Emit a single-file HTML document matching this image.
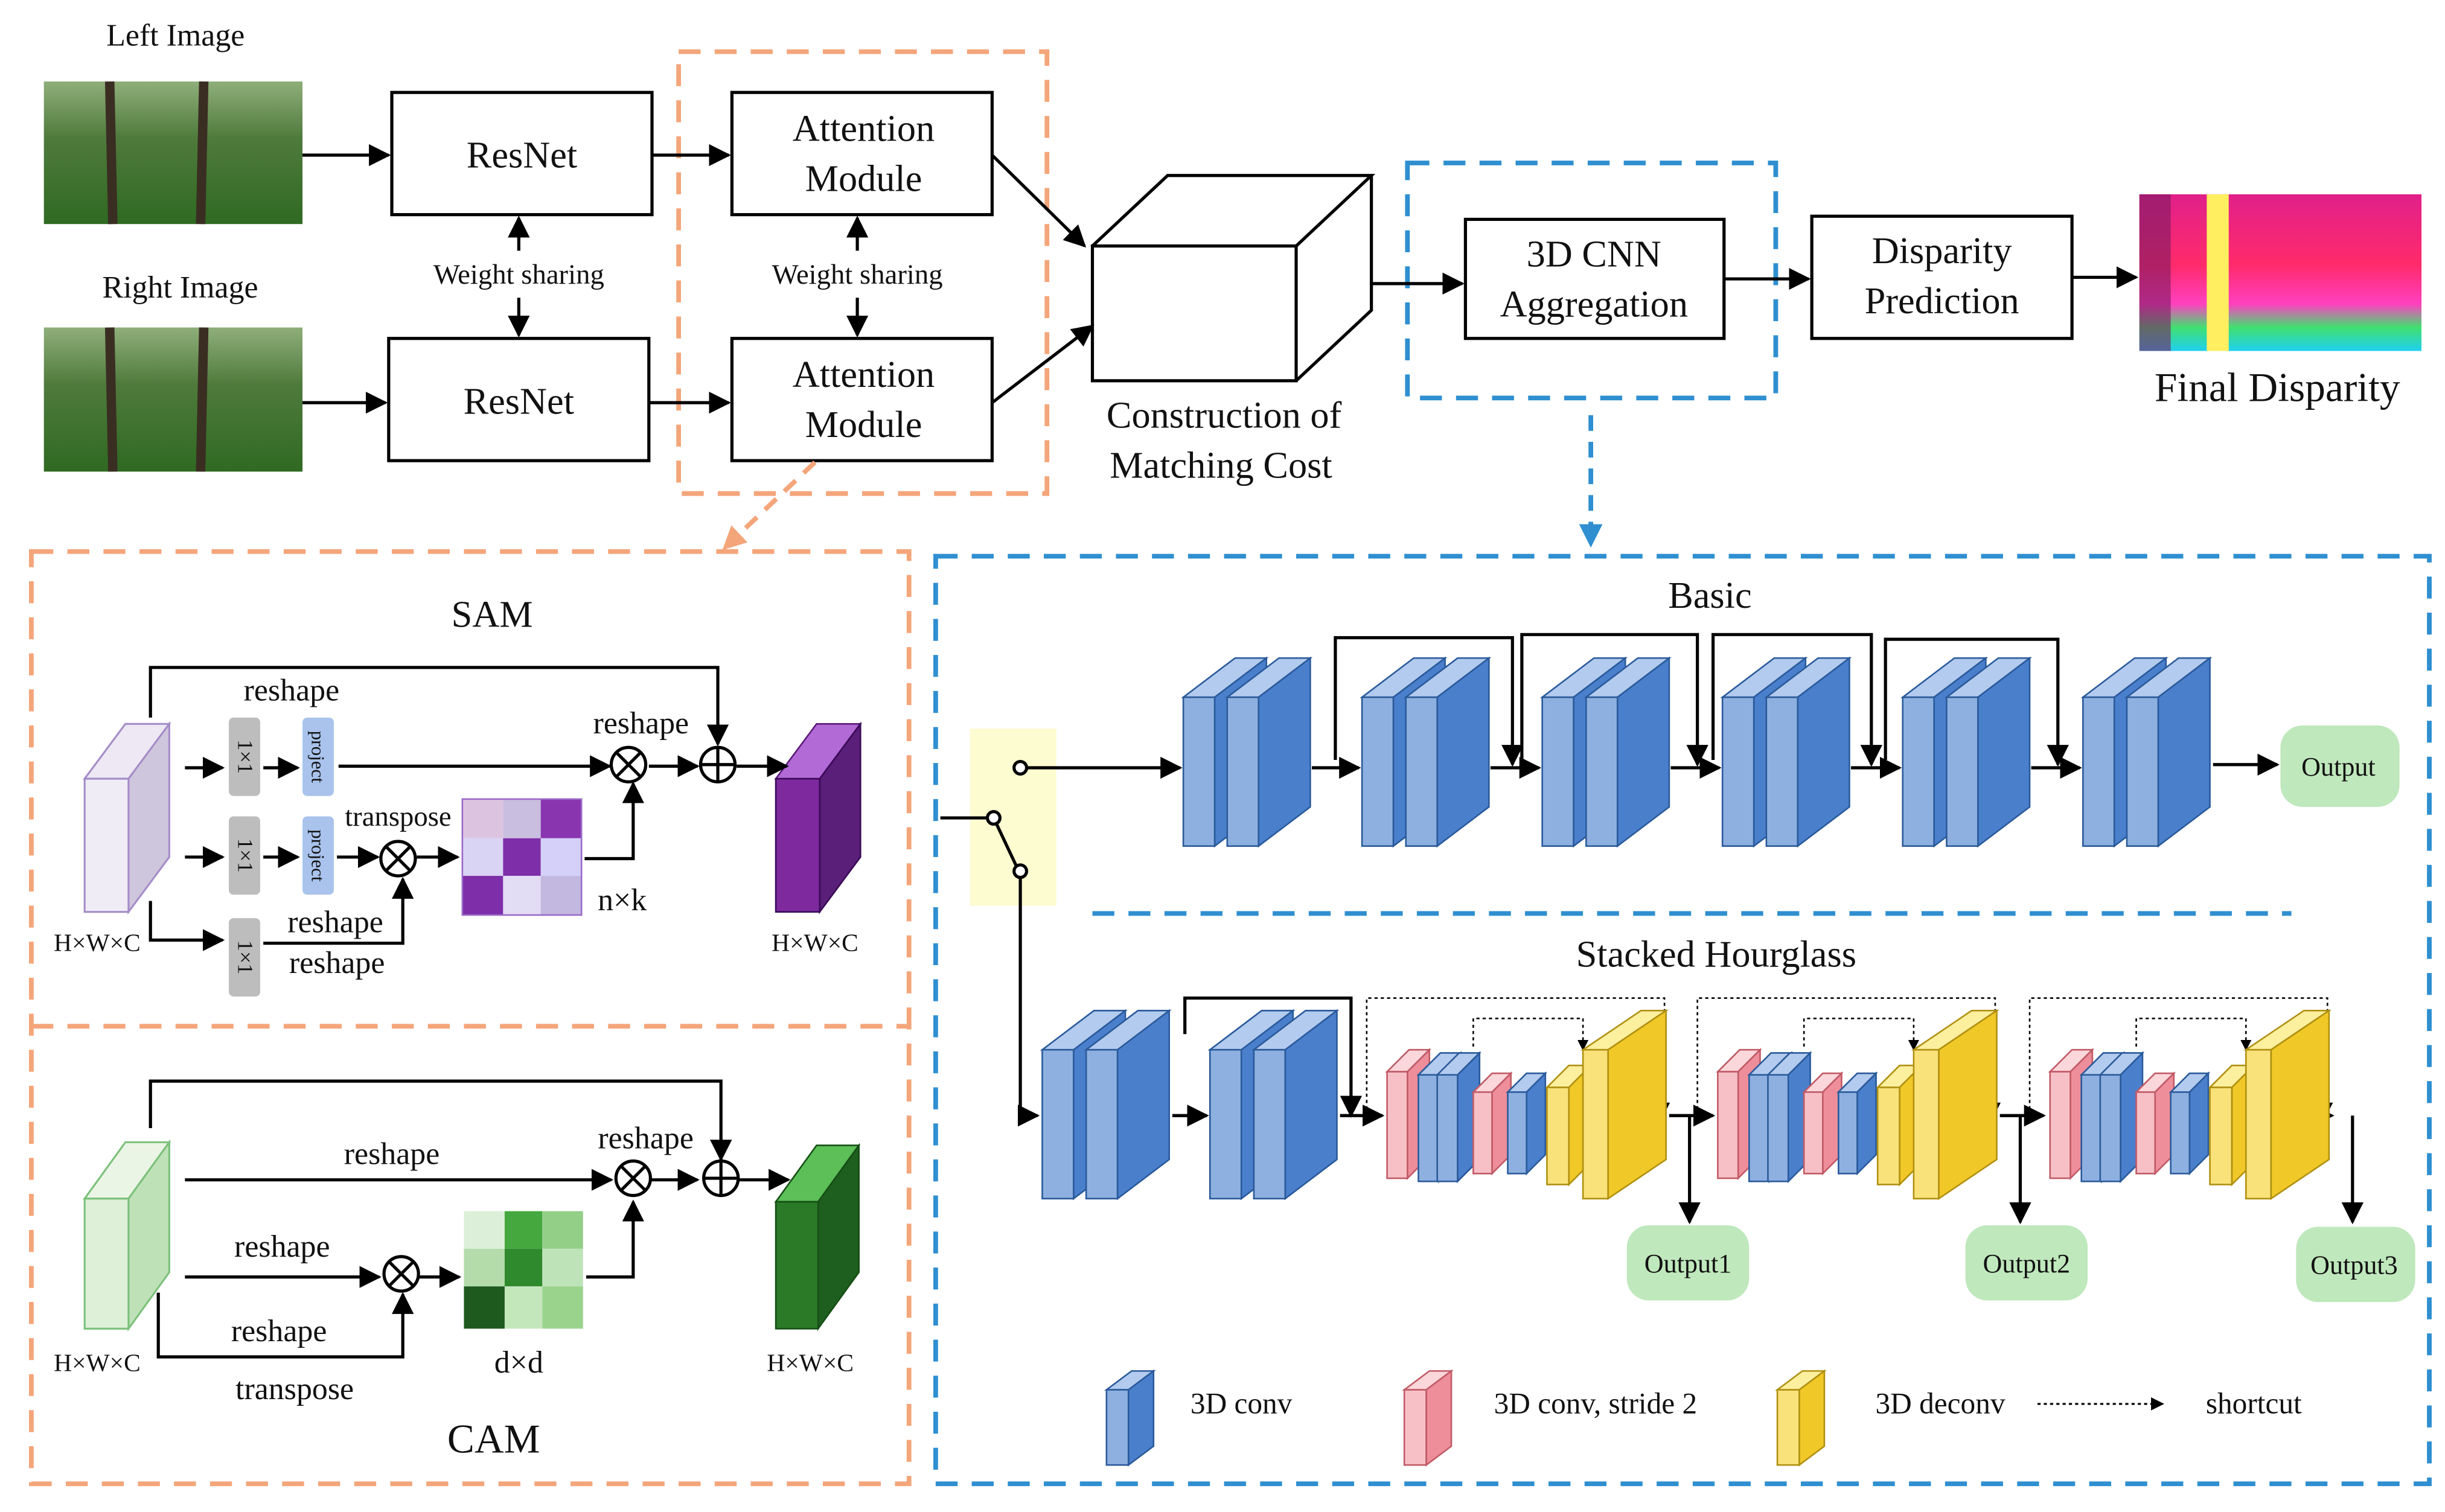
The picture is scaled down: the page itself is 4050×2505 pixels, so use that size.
<!DOCTYPE html>
<html><head><meta charset="utf-8"><style>
html,body{margin:0;padding:0;background:#fff}
svg{display:block}
text{font-family:"Liberation Serif",serif;fill:#111}
</style></head><body>
<svg id="s" width="4050" height="2505" viewBox="0 0 1560 965" preserveAspectRatio="none" xmlns="http://www.w3.org/2000/svg">
<defs>
<marker id="a" viewBox="0 0 10 10" refX="9" refY="5" markerWidth="7" markerHeight="7" orient="auto"><path d="M0,0L10,5L0,10z" fill="#000"/></marker>
<marker id="ao" viewBox="0 0 10 10" refX="9" refY="5" markerWidth="5" markerHeight="5" orient="auto"><path d="M0,0L10,5L0,10z" fill="#f4a57a"/></marker>
<marker id="ab" viewBox="0 0 10 10" refX="9" refY="5" markerWidth="5" markerHeight="5" orient="auto"><path d="M0,0L10,5L0,10z" fill="#2f8fd0"/></marker>
<linearGradient id="forest" x1="0" y1="0" x2="0" y2="1"><stop offset="0" stop-color="#8fae7a"/><stop offset="0.4" stop-color="#4f7a3c"/><stop offset="1" stop-color="#2f6a22"/></linearGradient>
<linearGradient id="disp" x1="0" y1="0" x2="0" y2="1"><stop offset="0" stop-color="#e0208a"/><stop offset="0.45" stop-color="#ff2a6a"/><stop offset="0.7" stop-color="#ff40c0"/><stop offset="0.85" stop-color="#40e070"/><stop offset="1" stop-color="#20d0f0"/></linearGradient>
</defs>
<g id="g" stroke="#000" stroke-width="2" fill="none">
<rect x="28" y="52" width="165" height="91" fill="url(#forest)" stroke="none"/>
<rect x="28" y="209" width="165" height="92" fill="url(#forest)" stroke="none"/>
<g stroke="#3a2e22" stroke-width="6"><line x1="70" y1="52" x2="72" y2="143"/><line x1="130" y1="52" x2="128" y2="143"/><line x1="70" y1="209" x2="72" y2="301"/><line x1="130" y1="209" x2="128" y2="301"/></g>
<rect x="250" y="59" width="166" height="78"/>
<rect x="248" y="216" width="166" height="78"/>
<rect x="467" y="59" width="166" height="78"/>
<rect x="467" y="216" width="166" height="78"/>
<rect x="935" y="140" width="165" height="76"/>
<rect x="1156" y="138" width="166" height="78"/>
<rect x="1365" y="124" width="180" height="100" fill="url(#disp)" stroke="none"/>
<rect x="1408" y="124" width="14" height="100" fill="#ffee60" stroke="none"/>
<rect x="1365" y="124" width="20" height="100" fill="#7a1a60" stroke="none" opacity=".6"/>
<rect x="697" y="157" width="130" height="86" fill="#fff"/>
<path d="M697,157L745,112L875,112L827,157M827,243L875,198L875,112"/>
<rect x="433" y="33" width="235" height="282" stroke="#f4a57a" stroke-width="3" stroke-dasharray="14,9"/>
<rect x="898" y="104" width="235" height="150" stroke="#2f8fd0" stroke-width="3" stroke-dasharray="14,9"/>
<g marker-end="url(#a)">
<line x1="193" y1="99" x2="248" y2="99"/><line x1="193" y1="257" x2="246" y2="257"/>
<line x1="416" y1="99" x2="465" y2="99"/><line x1="414" y1="257" x2="465" y2="257"/>
<line x1="633" y1="99" x2="692" y2="157"/><line x1="633" y1="257" x2="697" y2="208"/>
<line x1="875" y1="181" x2="933" y2="181"/><line x1="1100" y1="178" x2="1154" y2="178"/>
<line x1="1322" y1="177" x2="1363" y2="177"/>
<line x1="331" y1="160" x2="331" y2="139"/><line x1="331" y1="190" x2="331" y2="214"/>
<line x1="547" y1="160" x2="547" y2="139"/><line x1="547" y1="190" x2="547" y2="214"/>
</g>
<line x1="520" y1="295" x2="462" y2="350" stroke="#f4a57a" stroke-width="3" stroke-dasharray="10,7" marker-end="url(#ao)"/>
<line x1="1015" y1="265" x2="1015" y2="348" stroke="#2f8fd0" stroke-width="3" stroke-dasharray="10,7" marker-end="url(#ab)"/>
<rect x="20" y="352" width="560" height="595" stroke="#f4a57a" stroke-width="3" stroke-dasharray="14,9"/>
<line x1="20" y1="655" x2="580" y2="655" stroke="#f4a57a" stroke-width="3" stroke-dasharray="14,9"/>
<rect x="597" y="355" width="953" height="592" stroke="#2f8fd0" stroke-width="3" stroke-dasharray="14,9"/>
<line x1="697" y1="583" x2="1462" y2="583" stroke="#2f8fd0" stroke-width="3" stroke-dasharray="14,9"/>
<path d="M54,497L80,462L108,462L82,497Z" fill="#ede8f4" stroke="#a58cc8" stroke-width="1.2"/>
<path d="M82,497L108,462L108,547L82,582Z" fill="#cec6dc" stroke="#a58cc8" stroke-width="1.2"/>
<rect x="54" y="497" width="28" height="85" fill="#efecf5" stroke="#a58cc8" stroke-width="1.2"/>
<rect x="146" y="458" width="20" height="50" rx="3" fill="#bdbdbd" stroke="none"/>
<rect x="146" y="521" width="20" height="50" rx="3" fill="#bdbdbd" stroke="none"/>
<rect x="146" y="586" width="20" height="50" rx="3" fill="#bdbdbd" stroke="none"/>
<rect x="193" y="458" width="20" height="50" rx="3" fill="#a9c3ec" stroke="none"/>
<rect x="193" y="521" width="20" height="50" rx="3" fill="#a9c3ec" stroke="none"/>
<g stroke="none"><rect x="295" y="510" width="26" height="25" fill="#dcc4e0"/><rect x="321" y="510" width="24" height="25" fill="#c9bde0"/><rect x="345" y="510" width="26" height="25" fill="#8a35b0"/>
<rect x="295" y="535" width="26" height="24" fill="#d9d4f4"/><rect x="321" y="535" width="24" height="24" fill="#7e2ea8"/><rect x="345" y="535" width="26" height="24" fill="#d4d0fa"/>
<rect x="295" y="559" width="26" height="25" fill="#7e2ea8"/><rect x="321" y="559" width="24" height="25" fill="#e2dcf4"/><rect x="345" y="559" width="26" height="25" fill="#c2b8e0"/></g>
<rect x="295" y="510" width="76" height="74" stroke="#9a6ac8" stroke-width="1"/>
<path d="M495,497L521,462L549,462L523,497Z" fill="#b26ad6" stroke="#5a1a78" stroke-width="1"/>
<path d="M523,497L549,462L549,547L523,582Z" fill="#5a1f78" stroke="#3a0a58" stroke-width="1"/>
<rect x="495" y="497" width="28" height="85" fill="#7e2a9e" stroke="#3a0a58" stroke-width="1"/>
<g marker-end="url(#a)">
<line x1="118" y1="490" x2="142" y2="490"/><line x1="168" y1="490" x2="190" y2="490"/>
<line x1="118" y1="547" x2="142" y2="547"/><line x1="168" y1="547" x2="190" y2="547"/>
<line x1="215" y1="547" x2="241" y2="547"/><line x1="266" y1="547" x2="292" y2="547"/>
<polyline points="96,575 96,600 142,600"/>
<line x1="216" y1="489" x2="389" y2="489"/>
<polyline points="168,602 257,602 257,561"/>
<polyline points="373,548 404,548 404,500"/>
<line x1="414" y1="489" x2="445" y2="489"/><line x1="470" y1="489" x2="502" y2="489"/>
<polyline points="96,458 96,426 458,426 458,475"/>
</g>
<circle cx="401" cy="488" r="11"/><path d="M393,480L409,496M409,480L393,496"/>
<circle cx="458" cy="488" r="11"/><path d="M447,488H469M458,477V499"/>
<circle cx="254" cy="548" r="11"/><path d="M246,540L262,556M262,540L246,556"/>
<path d="M54,765L80,729L108,729L82,765Z" fill="#eaf5e6" stroke="#7cc07a" stroke-width="1.2"/>
<path d="M82,765L108,729L108,812L82,848Z" fill="#bfe1b8" stroke="#7cc07a" stroke-width="1.2"/>
<rect x="54" y="765" width="28" height="83" fill="#def0d8" stroke="#7cc07a" stroke-width="1.2"/>
<g stroke="none"><rect x="296" y="773" width="26" height="24" fill="#dcefd8"/><rect x="322" y="773" width="24" height="24" fill="#45a83e"/><rect x="346" y="773" width="26" height="24" fill="#94cf88"/>
<rect x="296" y="797" width="26" height="24" fill="#b3dcaa"/><rect x="322" y="797" width="24" height="24" fill="#2f8a2e"/><rect x="346" y="797" width="26" height="24" fill="#bfe3b8"/>
<rect x="296" y="821" width="26" height="27" fill="#1e5a1e"/><rect x="322" y="821" width="24" height="27" fill="#c4e6bb"/><rect x="346" y="821" width="26" height="27" fill="#9ad48c"/></g>
<path d="M495,767L521,731L548,731L522,767Z" fill="#5cbf58" stroke="#154f15" stroke-width="1"/>
<path d="M522,767L548,731L548,812L522,848Z" fill="#1e5e1e" stroke="#154f15" stroke-width="1"/>
<rect x="495" y="767" width="27" height="81" fill="#2a7a28" stroke="#154f15" stroke-width="1"/>
<g marker-end="url(#a)">
<line x1="118" y1="753" x2="390" y2="753"/><line x1="415" y1="753" x2="445" y2="753"/><line x1="470" y1="753" x2="503" y2="753"/>
<line x1="118" y1="815" x2="242" y2="815"/><line x1="267" y1="815" x2="293" y2="815"/>
<polyline points="101,825 101,866 257,866 257,826"/>
<polyline points="374,815 404,815 404,767"/>
<polyline points="96,720 96,690 460,690 460,740"/>
</g>
<circle cx="404" cy="752" r="11"/><path d="M396,744L412,760M412,744L396,760"/>
<circle cx="460" cy="752" r="11"/><path d="M449,752H471M460,741V763"/>
<circle cx="256" cy="813" r="11"/><path d="M248,805L264,821M264,805L248,821"/>
<rect x="619" y="465" width="55" height="113" fill="#fdfbd0" stroke="none"/>
<line x1="600" y1="522" x2="632" y2="522"/>
<line x1="634" y1="522" x2="650" y2="556"/>
<line x1="655" y1="490" x2="753" y2="490" marker-end="url(#a)"/>
<polyline points="651,558 651,712 662,712" marker-end="url(#a)"/>
<circle cx="651" cy="490" r="4" fill="#fff"/><circle cx="634" cy="522" r="4" fill="#fff"/><circle cx="651" cy="556" r="4" fill="#fff"/>
<g id="conn" marker-end="url(#a)"></g>
<line x1="1412" y1="488" x2="1453" y2="488" marker-end="url(#a)"/>
<rect x="1455" y="463" width="76" height="52" rx="14" fill="#bfe8bc" stroke="none"/>
<rect x="1038" y="782" width="78" height="48" rx="14" fill="#bfe8bc" stroke="none"/>
<rect x="1254" y="782" width="78" height="48" rx="14" fill="#bfe8bc" stroke="none"/>
<rect x="1465" y="783" width="76" height="48" rx="14" fill="#bfe8bc" stroke="none"/>
<g id="blocks" stroke-width="1"></g>
<line x1="1300" y1="896" x2="1380" y2="896" stroke-width="1.2" stroke-dasharray="2,2" marker-end="url(#a)"/>
</g>
<g font-size="20" text-anchor="middle">
<text x="112" y="29">Left Image</text>
<text x="115" y="190">Right Image</text>
<text x="333" y="107" font-size="24">ResNet</text>
<text x="331" y="264" font-size="24">ResNet</text>
<text x="551" y="90" font-size="24">Attention</text><text x="551" y="122" font-size="24">Module</text>
<text x="551" y="247" font-size="24">Attention</text><text x="551" y="279" font-size="24">Module</text>
<text x="331" y="181" font-size="18">Weight sharing</text>
<text x="547" y="181" font-size="18">Weight sharing</text>
<text x="781" y="273" font-size="24">Construction of</text>
<text x="779" y="305" font-size="24">Matching Cost</text>
<text x="1017" y="170" font-size="24">3D CNN</text><text x="1017" y="202" font-size="24">Aggregation</text>
<text x="1239" y="168" font-size="24">Disparity</text><text x="1239" y="200" font-size="24">Prediction</text>
<text x="1453" y="256" font-size="26">Final Disparity</text>
<text x="314" y="400" font-size="24">SAM</text>
<text x="186" y="447">reshape</text><text x="409" y="468">reshape</text>
<text x="254" y="527" font-size="18">transpose</text>
<text x="214" y="595">reshape</text><text x="215" y="621">reshape</text>
<text x="397" y="581">n×k</text>
<text x="62" y="607" font-size="16">H×W×C</text><text x="520" y="607" font-size="16">H×W×C</text>
<text x="250" y="743">reshape</text><text x="412" y="733">reshape</text>
<text x="180" y="802">reshape</text><text x="178" y="856">reshape</text>
<text x="188" y="893">transpose</text>
<text x="331" y="876">d×d</text>
<text x="62" y="875" font-size="16">H×W×C</text><text x="517" y="875" font-size="16">H×W×C</text>
<text x="315" y="927" font-size="26">CAM</text>
<text x="1091" y="388" font-size="24">Basic</text>
<text x="1095" y="617" font-size="24">Stacked Hourglass</text>
<text x="1492" y="495" font-size="17">Output</text>
<text x="1077" y="812" font-size="17">Output1</text>
<text x="1293" y="812" font-size="17">Output2</text>
<text x="1502" y="813" font-size="17">Output3</text>
<text x="792" y="902" font-size="19">3D conv</text>
<text x="1018" y="902" font-size="19">3D conv, stride 2</text>
<text x="1238" y="902" font-size="19">3D deconv</text>
<text x="1438" y="902" font-size="19">shortcut</text>
</g>
<g font-size="14" text-anchor="middle" style="font-family:'Liberation Serif',serif">
<text transform="translate(152,483) rotate(90)" x="0" y="0">1×1</text>
<text transform="translate(152,546) rotate(90)">1×1</text>
<text transform="translate(152,611) rotate(90)">1×1</text>
<text transform="translate(199,483) rotate(90)" font-size="12">project</text>
<text transform="translate(199,546) rotate(90)" font-size="12">project</text>
</g>
</svg>
<script>
var NS="http://www.w3.org/2000/svg",B=document.getElementById("blocks"),C=document.getElementById("conn");
var col={b:["#8eb0e0","#b3cbef","#4a7fcc","#2a5a9a"],p:["#f7c0c6","#fbd6da","#ee8e9a","#c05a66"],y:["#f9e27a","#fcef9e","#f0c828","#b09010"]};
function el(t,a,p){var e=document.createElementNS(NS,t);for(var k in a)e.setAttribute(k,a[k]);(p||B).appendChild(e);return e;}
function blk(x,y,w,h,dx,dy,c){var k=col[c];
el("polygon",{points:[x,y+dy,x+w,y+dy,x+w+dx,y,x+dx,y].join(","),fill:k[1],stroke:k[3]});
el("polygon",{points:[x+w,y+dy,x+w+dx,y,x+w+dx,y+h,x+w,y+dy+h].join(","),fill:k[2],stroke:k[3]});
el("rect",{x:x,y:y+dy,width:w,height:h,fill:k[0],stroke:k[3]});}
function pair(x,y){blk(x,y,20,95,33,25,"b");blk(x+28,y,20,95,33,25,"b");}
var bx=[755,869,984,1099,1214,1329];bx.forEach(function(x){pair(x,420);});
for(var i=0;i<5;i++){el("line",{x1:bx[i]+82,y1:490,x2:bx[i+1]-2,y2:490},C);}
[[852,407,965],[971,405,1083],[1093,405,1194],[1203,408,1313]].forEach(function(s){el("polyline",{points:[s[0],485,s[0],s[1],s[2],s[1],s[2],488].join(",")},C);});
pair(665,645);pair(772,645);
el("line",{x1:748,y1:712,x2:770,y2:712},C);
el("polyline",{points:"756,660 756,637 862,637 862,712"},C);
el("line",{x1:855,y1:712,x2:882,y2:712},C);
[885,1096,1308].forEach(function(g,i){
blk(g,670,13,68,14,14,"p");blk(g+20,672,13,68,14,14,"b");blk(g+32,672,13,68,14,14,"b");
blk(g+55,685,12,52,12,12,"p");blk(g+77,685,12,52,12,12,"b");
blk(g+102,680,14,62,14,14,"y");blk(g+125,645,16,95,37,25,"y");
var ox=g+180;
el("line",{x1:ox,y1:712,x2:ox+(i<2?28:0),y2:712},C);
el("polyline",{points:[ox+13,712,ox+13,780].join(",")},C);
el("polyline",{points:[g-13,712,g-13,637,g+177,637,g+177,710].join(","),"stroke-dasharray":"2,2","stroke-width":1},C);
el("polyline",{points:[g+55,668,g+55,650,g+125,650,g+125,670].join(","),"stroke-dasharray":"2,2","stroke-width":1},C);
});
blk(706,875,14,48,16,12,"b");blk(896,875,14,48,16,12,"p");blk(1134,875,14,48,16,12,"y");
</script>
</body></html>
